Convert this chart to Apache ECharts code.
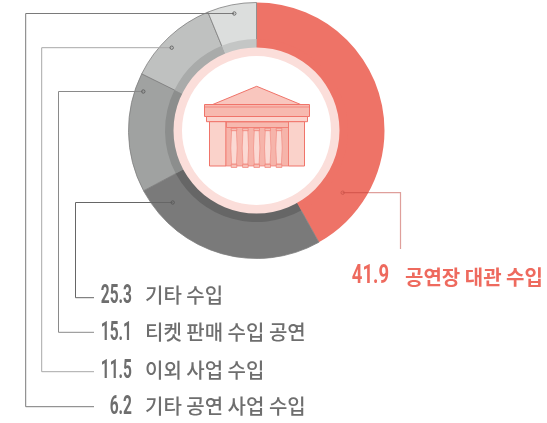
<!DOCTYPE html>
<html><head><meta charset="utf-8">
<style>html,body{margin:0;padding:0;background:#fff}#c{width:547px;height:423px}</style>
<script src="https://cdn.jsdelivr.net/npm/echarts@6/dist/echarts.min.js"></script>
</head><body><div id="c"></div>
<script>
const categories = ['공연장 대관 수입','기타 수입','티켓 판매 수입 공연','이외 사업 수입','기타 공연 사업 수입'];
const values = [41.9,25.3,15.1,11.5,6.2];
const sliceColors = ['#ee7367','#7a7a7a','#a0a2a1','#bfc1c0','#dcdedd'];
const bandColors = ['#ee7367','#666666','#8c8e8d','#a9abaa','#c4c6c5'];
const chart = echarts.init(document.getElementById('c'),null,{renderer:'canvas'});
const cx=256.5, cy=130.5;
const KR='"Noto Sans CJK KR"', NUM='Roboto,sans-serif';
function pie(r,colors,border,z){return {type:'pie',silent:true,center:[cx,cy],radius:r,startAngle:90,clockwise:true,z,
  label:{show:false},labelLine:{show:false},animation:false,
  data:values.map((v,i)=>({value:v,name:categories[i],itemStyle:{color:colors[i],borderColor:i&&border?border:colors[i],borderWidth:i&&border?0.8:0}}))};}
const g=[];
g.push({type:'ring',z:10,shape:{cx,cy,r:83,r0:74.5},style:{fill:'#fbdeda'}});
const leaders=[
 {i:1,pts:[[172.7,202.5],[75.5,202.5],[75.5,297.7],[94,297.7]],c:'#666',n:[132,296.7],l:[145,295]},
 {i:2,pts:[[143.3,91.5],[58.5,91.5],[58.5,332.3],[94,332.3]],c:'#8a8a8a',n:[132,334],l:[145,332]},
 {i:3,pts:[[171.7,47.7],[41.7,47.7],[41.7,371.7],[94,371.7]],c:'#a8a8a8',n:[132,372],l:[145,370]},
 {i:4,pts:[[234.3,13.5],[25.7,13.5],[25.7,406.7],[94,406.7]],c:'#7a7a7a',n:[132,408],l:[145,406]}];
leaders.forEach(o=>{
 g.push({type:'polyline',z:12,shape:{points:o.pts},style:{fill:null,stroke:o.c,lineWidth:1}});
 g.push({type:'circle',z:13,shape:{cx:o.pts[0][0],cy:o.pts[0][1],r:1.7},style:{fill:'none',stroke:'#555',lineWidth:0.8}});
 g.push({type:'text',z:14,x:o.n[0],y:o.n[1],scaleX:0.62,style:{x:0,y:0,text:values[o.i].toFixed(1),align:'right',verticalAlign:'middle',fill:'#6e6e6e',font:'bold 25px '+NUM}});
 g.push({type:'text',z:14,style:{x:o.l[0],y:o.l[1],text:categories[o.i],align:'left',verticalAlign:'middle',fill:'#6e6e6e',font:'500 20px '+KR}});
});
g.push({type:'polyline',z:12,shape:{points:[[342.7,192.7],[400.5,192.7],[400.5,249]]},style:{fill:null,stroke:'rgba(192,64,56,0.5)',lineWidth:1.2}});
g.push({type:'circle',z:13,shape:{cx:342.7,cy:192.7,r:1.7},style:{fill:'none',stroke:'#c9564b',lineWidth:0.8}});
g.push({type:'text',z:14,x:389,y:276.5,scaleX:0.74,style:{x:0,y:0,text:values[0].toFixed(1),align:'right',verticalAlign:'middle',fill:'#ee6a5e',font:'bold 25px '+NUM}});
g.push({type:'text',z:14,style:{x:405,y:277,text:categories[0],align:'left',verticalAlign:'middle',fill:'#ee6a5e',font:'bold 20px '+KR}});
const st=(f)=>({fill:f,stroke:'#f0746a',lineWidth:1});
g.push({type:'polygon',z:20,shape:{points:[[212.7,104.5],[256.7,86.3],[300.7,104.5]]},style:st('#f9c6be')});
g.push({type:'rect',z:20,shape:{x:204.5,y:104.5,width:105,height:12},style:st('#f7b9af')});
g.push({type:'line',z:21,shape:{x1:204.5,y1:107,x2:309.5,y2:107},style:{stroke:'#f0746a',lineWidth:0.7}});
g.push({type:'rect',z:20,shape:{x:206.5,y:116.5,width:101,height:5.2},style:st('#fbd3cc')});
g.push({type:'rect',z:20,shape:{x:209.5,y:121.7,width:16.5,height:44.3},style:st('#fad2ca')});
g.push({type:'rect',z:20,shape:{x:288.5,y:121.7,width:16,height:44.3},style:st('#fad2ca')});
g.push({type:'rect',z:20,shape:{x:226,y:121.7,width:62.5,height:44.3},style:{fill:'#f6b4aa',stroke:'#f0746a',lineWidth:0.7}});
g.push({type:'rect',z:21,shape:{x:226.5,y:122,width:62,height:5.5},style:{fill:'#f7b9af',stroke:'#f0746a',lineWidth:0.8}});
[234,245.4,256.7,267.7,279].forEach(x=>{
 g.push({type:'polygon',z:21,shape:{points:[[x-2.4,130.5],[x+2.4,130.5],[x+3.2,148],[x+2.4,164],[x-2.4,164],[x-3.2,148]]},style:{fill:'#fbd9d3',stroke:'#f0857b',lineWidth:0.6}});
 g.push({type:'rect',z:22,shape:{x:x-2.8,y:128.3,width:5.6,height:2.4},style:{fill:'#f7c0b7',stroke:'#f0746a',lineWidth:0.6}});
 g.push({type:'rect',z:22,shape:{x:x-2.8,y:164.3,width:5.6,height:3.2},style:{fill:'#f7c0b7',stroke:'#f0746a',lineWidth:0.6}});
});
chart.setOption({animation:false,backgroundColor:'#fff',
 series:[pie([82,128],sliceColors,'#7f7f7f',1),pie([82,91.5],bandColors,null,2)],
 graphic:{elements:g}});
</script></body></html>
